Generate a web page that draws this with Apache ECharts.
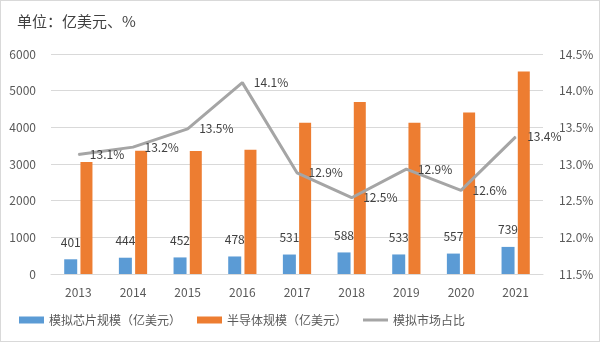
<!DOCTYPE html>
<html><head><meta charset="utf-8">
<script src="https://cdn.jsdelivr.net/npm/echarts@6/dist/echarts.min.js"></script>
<style>html,body{margin:0;padding:0;background:#fff}#c{width:598px;height:340px;border:1px solid #d9d9d9}</style>
</head><body><div id="c"></div>
<script>
const categories = ['2013','2014','2015','2016','2017','2018','2019','2020','2021'];
const analogChip = [401,444,452,478,531,588,533,557,739];
const semiconductor = [3056,3358,3352,3389,4122,4688,4123,4404,5520];
const analogShare = [13.13,13.23,13.48,14.11,12.88,12.54,12.93,12.64,13.37];
const leftTicks = {min:0,max:6000,interval:1000};
const rightTicks = {min:11.5,max:14.5,interval:0.5};
const FONT = '"Noto Sans CJK SC", "Noto Sans", sans-serif';
const chart = echarts.init(document.getElementById('c'));
chart.setOption({
  animation:false,
  textStyle:{fontFamily:FONT},
  title:{text:'单位：亿美元、%',left:11,top:8,textStyle:{fontSize:15,fontWeight:'normal',color:'#404040',fontFamily:FONT}},
  grid:{left:50,right:56,top:53,bottom:67},
  legend:{bottom:10,left:13,itemGap:16,itemWidth:25,itemHeight:7,
    textStyle:{fontSize:12,color:'#595959',fontFamily:FONT},
    data:[{name:'模拟芯片规模（亿美元）',icon:'rect'},{name:'半导体规模（亿美元）',icon:'rect'},
          {name:'模拟市场占比',icon:'path://M0,0 L25,0 L25,3 L0,3 Z',itemStyle:{color:'#a5a5a5'}}]},
  xAxis:{type:'category',data:categories,boundaryGap:true,
    axisLine:{lineStyle:{color:'#d9d9d9'}},axisTick:{show:false},
    axisLabel:{color:'#595959',fontSize:12,margin:12}},
  yAxis:[
    {type:'value',min:leftTicks.min,max:leftTicks.max,interval:leftTicks.interval,
     axisLabel:{color:'#595959',fontSize:12,margin:15,formatter:v=>String(v)},
     splitLine:{lineStyle:{color:'#d9d9d9'}},axisLine:{show:false},axisTick:{show:false}},
    {type:'value',min:rightTicks.min,max:rightTicks.max,interval:rightTicks.interval,
     axisLabel:{color:'#595959',fontSize:12,margin:16,formatter:v=>v.toFixed(1)+'%'},
     splitLine:{show:false},axisLine:{show:false},axisTick:{show:false}}
  ],
  series:[
    {name:'模拟芯片规模（亿美元）',type:'bar',data:analogChip,barWidth:13,barGap:'25%',
     itemStyle:{color:'#5b9bd5'},
     label:{show:true,position:'top',distance:11,color:'#404040',fontSize:12}},
    {name:'半导体规模（亿美元）',type:'bar',data:semiconductor,barWidth:12,
     itemStyle:{color:'#ed7d31'}},
    {name:'模拟市场占比',type:'line',yAxisIndex:1,data:analogShare,
     symbol:'circle',symbolSize:1,showSymbol:true,
     lineStyle:{color:'#a5a5a5',width:3},itemStyle:{color:'#a5a5a5'},z:5,
     label:{show:true,position:'right',distance:11,color:'#404040',fontSize:12,
       formatter:p=>p.value.toFixed(1)+'%'}}
  ]
});
</script></body></html>
